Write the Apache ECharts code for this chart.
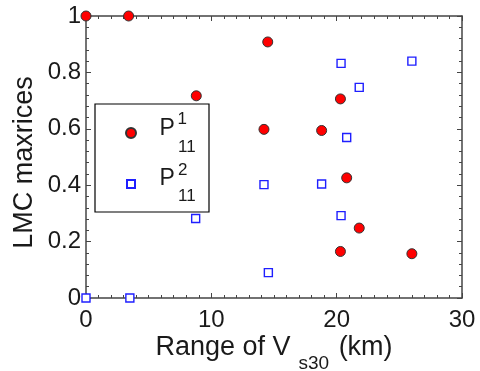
<!DOCTYPE html>
<html>
<head>
<meta charset="utf-8">
<script src="https://cdn.jsdelivr.net/npm/echarts@6/dist/echarts.min.js"></script>
<style>
  html, body { margin: 0; padding: 0; background: #fff; }
  #main { width: 480px; height: 371px; }
</style>
</head>
<body>
<div id="main"></div>
<script>
// data: [range of Vs30 (km), LMC value]
const p1Points = [
  [0, 1.0], [3.4, 1.0], [8.8, 0.717], [14.5, 0.908], [14.2, 0.598],
  [18.8, 0.594], [20.3, 0.706], [20.8, 0.426], [21.8, 0.248],
  [20.3, 0.165], [26.0, 0.157]
];
const p2Points = [
  [0, 0.0], [3.5, 0.0], [8.75, 0.282], [20.35, 0.832], [26.0, 0.840],
  [21.8, 0.747], [20.8, 0.569], [14.2, 0.402], [18.8, 0.404],
  [20.35, 0.292], [14.55, 0.09]
];
const xTicks = [0, 10, 20, 30];
const yTicks = [0, 0.2, 0.4, 0.6, 0.8, 1];

const font = '"Liberation Sans", Arial, sans-serif';
const ink = '#1a1a1a';
const frame = '#444';

const chart = echarts.init(document.getElementById('main'));

function axisBase(extra) {
  return Object.assign({
    axisLine: { show: true, onZero: false, lineStyle: { color: frame, width: 1.5 } },
    axisTick: { show: true, inside: true, length: 5, lineStyle: { color: frame } },
    splitLine: { show: false }
  }, extra);
}

// little helper for the legend label pieces
function txt(s, x, y, size) {
  return {
    type: 'text', x: x, y: y, z: 100,
    style: { text: s, fontFamily: font, fontSize: size, fill: ink, align: 'left', verticalAlign: 'middle' }
  };
}

chart.setOption({
  animation: false,
  backgroundColor: '#fff',
  grid: { left: 86, right: 18, top: 16, bottom: 73, outerBoundsMode: 'none' },
  xAxis: [
    axisBase({
      type: 'value', min: xTicks[0], max: xTicks[xTicks.length - 1], interval: 10,
      minorTick: { show: true, splitNumber: 10, length: 3, lineStyle: { color: frame } },
      axisLabel: { fontFamily: font, fontSize: 24, color: ink, margin: 10 },
      name: '{n|Range of V}{s|s30}{n| (km)}',
      nameLocation: 'middle',
      nameGap: 36,
      nameMoveOverlap: false,
      nameTextStyle: {
        rich: {
          n: { fontFamily: font, fontSize: 27, color: ink, verticalAlign: 'top', lineHeight: 27 },
          s: { fontFamily: font, fontSize: 19, color: ink, verticalAlign: 'bottom', lineHeight: 39, padding: [0, 2, 0, 8] }
        }
      }
    }),
    axisBase({
      type: 'value', position: 'top', min: 0, max: 30, interval: 10,
      minorTick: { show: true, splitNumber: 10, length: 3, lineStyle: { color: frame } },
      axisLabel: { show: false }
    })
  ],
  yAxis: [
    axisBase({
      type: 'value', min: yTicks[0], max: yTicks[yTicks.length - 1], interval: 0.2,
      minorTick: { show: true, splitNumber: 5, length: 3, lineStyle: { color: frame } },
      axisLabel: { fontFamily: font, fontSize: 24, color: ink, margin: 5 },
      name: 'LMC maxrices',
      nameLocation: 'middle',
      nameGap: 48,
      nameMoveOverlap: false,
      nameTextStyle: { fontFamily: font, fontSize: 27, color: ink, padding: [0, 11, 0, 0] }
    }),
    axisBase({
      type: 'value', position: 'right', min: 0, max: 1, interval: 0.2,
      minorTick: { show: true, splitNumber: 5, length: 3, lineStyle: { color: frame } },
      axisLabel: { show: false }
    })
  ],
  legend: {
    orient: 'vertical',
    left: 95, top: 104,
    padding: [23, 8, 22, 30],
    itemWidth: 10, itemHeight: 10,
    itemGap: 39,
    borderColor: '#000', borderWidth: 1.2,
    backgroundColor: '#fff',
    textStyle: { fontSize: 10, lineHeight: 10, rich: { w: { width: 60, height: 10 } } },
    formatter: () => '{w|}',
    data: [
      { name: 'P1', icon: 'circle' },
      { name: 'P2', icon: 'path://M0,0M10,10M1,1H9V9H1Z' }
    ]
  },
  // labels inside the legend box: P with superscript and subscript
  graphic: [
    txt('P', 159.5, 129, 23),
    txt('1', 177.5, 119.7, 17),
    txt('11', 178, 147, 17),
    txt('P', 159.5, 179, 23),
    txt('2', 178, 170.8, 17),
    txt('11', 178, 196.3, 17)
  ],
  series: [
    {
      name: 'P1', type: 'scatter', data: p1Points,
      symbol: 'circle', symbolSize: 10, z: 3,
      itemStyle: { color: '#ff0000', borderColor: '#333', borderWidth: 1, opacity: 1 }
    },
    {
      name: 'P2', type: 'scatter', data: p2Points,
      symbol: 'rect', symbolSize: 8, z: 4,
      itemStyle: { color: '#fff', borderColor: '#1f1fff', borderWidth: 1.4, opacity: 1 }
    }
  ]
});
</script>
</body>
</html>
